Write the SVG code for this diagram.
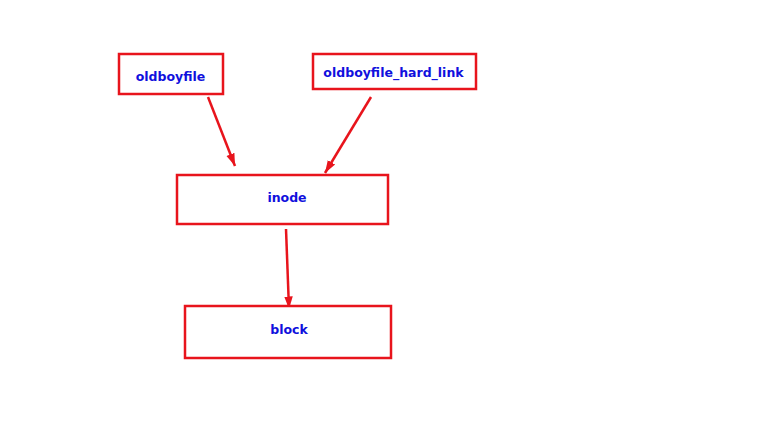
<svg xmlns="http://www.w3.org/2000/svg" width="763" height="427" viewBox="0 0 763 427">
<defs>
<style>
.box{fill:#ffffff;stroke:#e8141c;stroke-width:2.5}
.lbl{font-family:"DejaVu Sans",Verdana,sans-serif;font-weight:bold;font-size:12.5px;fill:#1010dd;text-anchor:middle}
.con{stroke:#e8141c;stroke-width:2.5;fill:none;marker-end:url(#ah)}
</style>
<marker id="ah" viewBox="0 0 10 10" refX="10" refY="5" markerWidth="5" markerHeight="5" orient="auto" markerUnits="strokeWidth">
<path d="M0,1.6 L10,5 L0,8.4 z" fill="#e8141c"/>
</marker>
</defs>
<rect width="763" height="427" fill="#ffffff"/>
<g id="connectors">
<line class="con" x1="208" y1="97" x2="235" y2="166"/>
<line class="con" x1="371" y1="97" x2="325" y2="173"/>
<line class="con" x1="286" y1="229" x2="289" y2="309"/>
</g>
<g id="oldboyfile">
<rect class="box" x="119" y="54" width="104" height="40"/>
<text class="lbl" x="170.5" y="80.5">oldboyfile</text>
</g>
<g id="hard_link">
<rect class="box" x="313" y="54" width="163" height="35"/>
<text class="lbl" x="393.5" y="77">oldboyfile_hard_link</text>
</g>
<g id="inode">
<rect class="box" x="177" y="175" width="211" height="49"/>
<text class="lbl" x="287" y="202">inode</text>
</g>
<g id="block">
<rect class="box" x="185" y="306" width="206" height="52"/>
<text class="lbl" x="289" y="334">block</text>
</g>
</svg>
